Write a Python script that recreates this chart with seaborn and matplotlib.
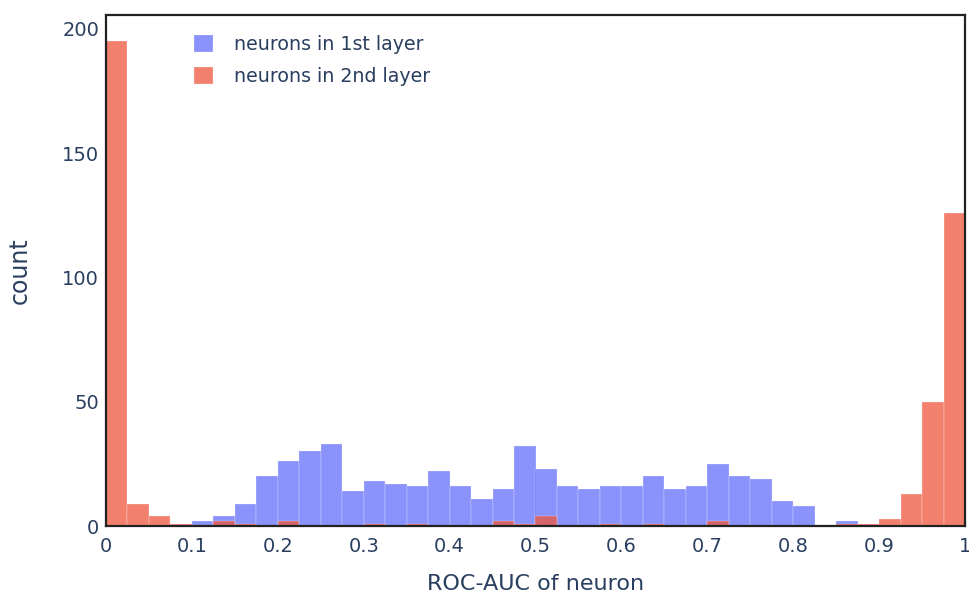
import numpy as np
import pandas as pd
import matplotlib
matplotlib.use("Agg")
import matplotlib.pyplot as plt
import seaborn as sns

# Contagens por bin (40 bins de largura 0.025 entre 0 e 1)
contagem_camada1 = [0, 0, 0, 0, 2, 4, 9, 20, 26, 30,
                    33, 14, 18, 17, 16, 22, 16, 11, 15, 32,
                    23, 16, 15, 16, 16, 20, 15, 16, 25, 20,
                    19, 10, 8, 0, 2, 0, 0, 0, 0, 0]
contagem_camada2 = [195, 9, 4, 1, 0, 2, 1, 0, 2, 0,
                    0, 0, 1, 0, 1, 0, 0, 0, 2, 1,
                    4, 0, 0, 1, 0, 1, 0, 0, 2, 0,
                    0, 0, 0, 0, 1, 1, 3, 13, 50, 126]
nomes_series = ["neurons in 1st layer", "neurons in 2nd layer"]
cores = ["#636EFA", "#EF553B"]
ticks_x = [0, 0.1, 0.2, 0.3, 0.4, 0.5, 0.6, 0.7, 0.8, 0.9, 1]
rotulos_x = ["0", "0.1", "0.2", "0.3", "0.4", "0.5", "0.6", "0.7", "0.8", "0.9", "1"]
ticks_y = [0, 50, 100, 150, 200]

n_bins = len(contagem_camada1)
bordas = np.linspace(0, 1, n_bins + 1)
centros = (bordas[:-1] + bordas[1:]) / 2

sns.set_style("white")
plt.rcParams["font.family"] = ["DejaVu Sans"]
cor_texto = "#2a3f5f"

fig = plt.figure(figsize=(9.69, 5.97), dpi=100)
ax = fig.add_axes([106 / 969, 71 / 597, 859 / 969, 511 / 597])

for nome, contagem, cor in zip(nomes_series, [contagem_camada1, contagem_camada2], cores):
    df = pd.DataFrame({"auc": centros, "count": contagem})
    sns.histplot(data=df, x="auc", weights="count", bins=bordas.tolist(), color=cor,
                 alpha=0.75, edgecolor="#f4f4ff", linewidth=0.2, label=nome, ax=ax)

ax.set_xlim(0, 1)
ax.set_ylim(0, 205.5)
ax.set_xticks(ticks_x)
ax.set_xticklabels(rotulos_x)
ax.set_yticks(ticks_y)
ax.tick_params(axis="both", length=0, labelsize=14, labelcolor=cor_texto)
ax.tick_params(axis="x", pad=8)
ax.tick_params(axis="y", pad=5)
ax.set_xlabel("ROC-AUC of neuron", fontsize=16, color=cor_texto, labelpad=13)
ax.set_ylabel("count", fontsize=17, color=cor_texto, labelpad=22)

for lado in ["left", "right", "top", "bottom"]:
    ax.spines[lado].set_visible(True)
    ax.spines[lado].set_color("#222222")
    ax.spines[lado].set_linewidth(1.6)

leg = ax.legend(loc="upper left", bbox_to_anchor=(0.082, 0.995), frameon=False,
                fontsize=13.7, handlelength=1.0, handleheight=1.0, handletextpad=1.1,
                labelspacing=0.7)
for t in leg.get_texts():
    t.set_color(cor_texto)

plt.savefig("out.png", dpi=100)
plt.close()
